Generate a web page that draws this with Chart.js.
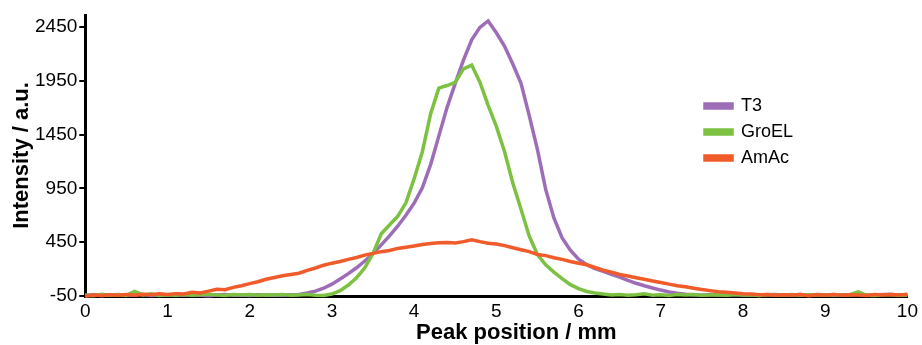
<!DOCTYPE html>
<html><head><meta charset="utf-8">
<script src="https://cdn.jsdelivr.net/npm/chart.js@4.4.0/dist/chart.umd.min.js"></script>
<style>html,body{margin:0;padding:0;background:#fff;}#wrap{width:922px;height:345px;}</style>
</head><body><div id="wrap"><canvas id="c" width="922" height="345"></canvas></div>
<script>
const positions = [0.0,0.1,0.2,0.3,0.4,0.5,0.6,0.7,0.8,0.9,1.0,1.1,1.2,1.3,1.4,1.5,1.6,1.7,1.8,1.9,
  2.0,2.1,2.2,2.3,2.4,2.5,2.6,2.7,2.8,2.9,3.0,3.1,3.2,3.3,3.4,3.5,3.6,3.7,3.8,3.9,
  4.0,4.1,4.2,4.3,4.4,4.5,4.6,4.7,4.8,4.9,5.0,5.1,5.2,5.3,5.4,5.5,5.6,5.7,5.8,5.9,
  6.0,6.1,6.2,6.3,6.4,6.5,6.6,6.7,6.8,6.9,7.0,7.1,7.2,7.3,7.4,7.5,7.6,7.7,7.8,7.9,
  8.0,8.1,8.2,8.3,8.4,8.5,8.6,8.7,8.8,8.9,9.0,9.1,9.2,9.3,9.4,9.5,9.6,9.7,9.8,9.9,10.0];

const t3 = [-42,-38,-45,-40,-36,-44,-41,-37,-46,-40,-43,-38,-44,-39,-42,-47,-40,-36,-43,-41,
  -45,-38,-42,-40,-44,-39,-35,-22,-5,22,60,108,158,212,275,342,425,508,598,700,
  812,955,1170,1435,1700,1925,2140,2330,2445,2505,2395,2270,2105,1925,1625,1310,940,675,490,375,
  292,240,205,178,152,125,95,68,45,24,5,-12,-25,-33,-38,-42,-36,-40,-44,-37,
  -41,-39,-45,-38,-35,-42,-40,-37,-43,-36,-39,-44,-38,-41,-36,-40,-43,-37,-35,-41,-38];

const groel = [-40,-48,-35,-42,-38,-44,-8,-40,-30,-45,-38,-42,-36,-44,-39,-33,-41,-46,-37,-40,
  -35,-43,-38,-41,-36,-44,-40,-37,-42,-45,-32,0,52,120,212,345,528,610,690,815,
  1040,1290,1640,1880,1905,1935,2060,2095,1935,1720,1525,1290,1000,755,505,335,240,172,112,55,
  18,-8,-22,-32,-40,-36,-44,-38,-30,-42,-39,-45,-37,-41,-35,-43,-40,-38,-44,-36,
  -41,-39,-46,-37,-42,-40,-35,-43,-38,-41,-44,-36,-40,-38,-12,-42,-45,-39,-37,-43,-40];

const amac = [-52,-40,-45,-38,-44,-36,-42,-34,-38,-30,-35,-28,-32,-15,-22,-5,12,8,30,45,
  65,82,105,122,138,150,162,188,210,236,255,270,290,308,330,346,362,372,392,403,
  415,428,438,445,448,442,455,472,455,440,432,418,398,380,362,336,325,305,290,270,
  255,240,215,190,170,150,135,120,105,90,75,60,45,35,22,10,0,-10,-15,-22,
  -28,-32,-38,-35,-42,-38,-40,-36,-48,-38,-42,-35,-44,-38,-40,-45,-37,-41,-36,-40,-33];

const seriesNames = ['T3', 'GroEL', 'AmAc'];
const seriesColors = ['#9d6db8', '#7cc142', '#f15a29'];
const xTicks = [0, 1, 2, 3, 4, 5, 6, 7, 8, 9, 10];
const yTicks = [-50, 450, 950, 1450, 1950, 2450];

const FAMILY = "'Liberation Sans', Arial, sans-serif";
const seriesValues = [t3, groel, amac];
const drawOrder = [3, 2, 1];

const datasets = seriesNames.map((name, k) => ({
  label: name,
  data: positions.map((x, i) => ({x: x, y: seriesValues[k][i]})),
  borderColor: seriesColors[k],
  backgroundColor: seriesColors[k],
  borderWidth: 3.5,
  pointRadius: 0,
  tension: 0,
  clip: false,
  order: drawOrder[k]
}));

const layoutTweaks = {
  id: 'layoutTweaks',
  beforeDraw(chart) {
    const lg = chart.legend;
    if (lg) {
      const w = lg.width, h = lg.height;
      lg.left = 697; lg.top = 89; lg.right = 697 + w; lg.bottom = 89 + h;
    }
    const xs = chart.scales.x;
    if (xs && !xs._titleShifted) {
      const orig = xs.drawTitle;
      xs.drawTitle = function() {
        const ctx = this.ctx;
        ctx.save();
        ctx.translate(20, 0);
        orig.call(this);
        ctx.restore();
      };
      xs._titleShifted = true;
    }
  }
};

new Chart(document.getElementById('c'), {
  type: 'line',
  data: {datasets: datasets},
  plugins: [layoutTweaks],
  options: {
    responsive: false,
    animation: false,
    devicePixelRatio: 1,
    layout: {padding: {left: 7, right: 14, top: 15, bottom: 0}},
    plugins: {
      tooltip: {enabled: false},
      legend: {
        display: true,
        position: 'chartArea',
        align: 'start',
        labels: {
          boxWidth: 27, boxHeight: 4, padding: 8, color: '#000',
          font: {size: 18, family: FAMILY},
          sort: (a, b) => a.datasetIndex - b.datasetIndex
        }
      }
    },
    scales: {
      x: {
        type: 'linear', min: 0, max: 10,
        afterBuildTicks: (s) => { s.ticks = xTicks.map(v => ({value: v})); },
        ticks: {color: '#000', padding: 4, maxRotation: 0, autoSkip: false,
          callback: (v) => String(v),
          font: {size: 19, family: FAMILY, lineHeight: 1.2}},
        grid: {display: false, drawTicks: false},
        border: {display: true, color: '#000', width: 3},
        title: {display: true, text: 'Peak position / mm', color: '#000',
          font: {size: 22, weight: 'bold', family: FAMILY, lineHeight: 0.6},
          padding: {top: 0, bottom: 5}}
      },
      y: {
        type: 'linear', min: -50, max: 2560,
        afterBuildTicks: (s) => { s.ticks = yTicks.map(v => ({value: v})); },
        ticks: {color: '#000', padding: 2, autoSkip: false,
          callback: (v) => String(v),
          font: {size: 19, family: FAMILY}},
        grid: {display: true, drawOnChartArea: false, drawTicks: true, tickLength: 6,
          color: '#000', lineWidth: 2},
        border: {display: true, color: '#000', width: 3},
        title: {display: true, text: 'Intensity / a.u.', color: '#000',
          font: {size: 22, weight: 'bold', family: FAMILY, lineHeight: 1},
          padding: {top: 4, bottom: 0}}
      }
    }
  }
});
</script></body></html>
